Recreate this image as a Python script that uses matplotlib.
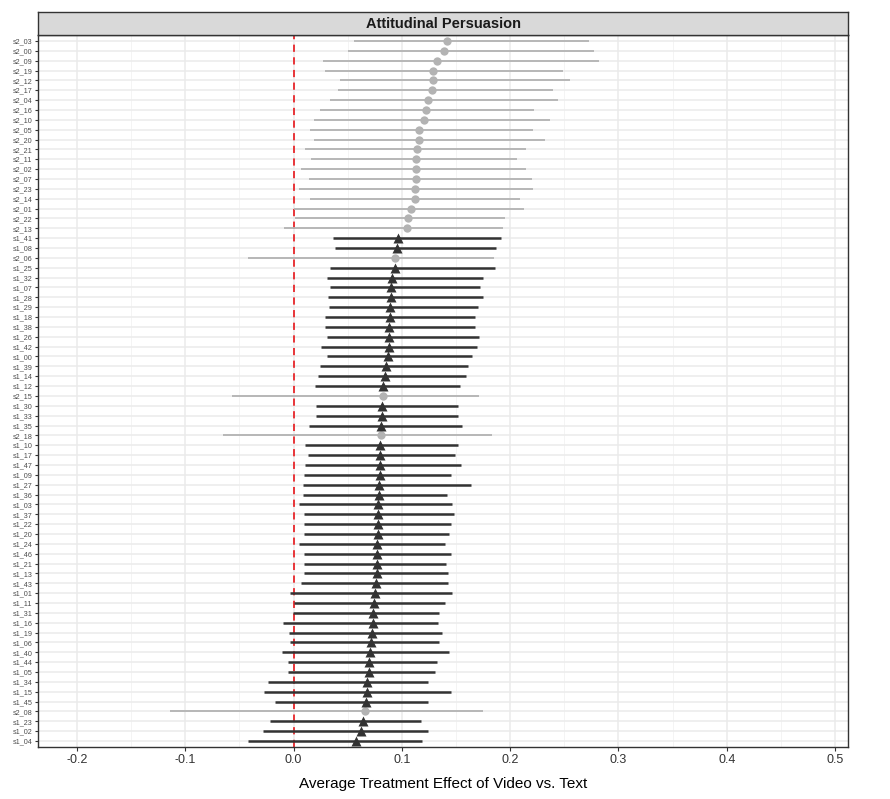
import numpy as np
import matplotlib
matplotlib.use("Agg")
import matplotlib.pyplot as plt

plt.rcParams['font.family'] = ['Liberation Sans', 'DejaVu Sans']

# rows from top to bottom
labels = ["s2_03", "s2_00", "s2_09", "s2_19", "s2_12", "s2_17", "s2_04", "s2_16",
          "s2_10", "s2_05", "s2_20", "s2_21", "s2_11", "s2_02", "s2_07", "s2_23",
          "s2_14", "s2_01", "s2_22", "s2_13", "s1_41", "s1_08", "s2_06", "s1_25",
          "s1_32", "s1_07", "s1_28", "s1_29", "s1_18", "s1_38", "s1_26", "s1_42",
          "s1_00", "s1_39", "s1_14", "s1_12", "s2_15", "s1_30", "s1_33", "s1_35",
          "s2_18", "s1_10", "s1_17", "s1_47", "s1_09", "s1_27", "s1_36", "s1_03",
          "s1_37", "s1_22", "s1_20", "s1_24", "s1_46", "s1_21", "s1_13", "s1_43",
          "s1_01", "s1_11", "s1_31", "s1_16", "s1_19", "s1_06", "s1_40", "s1_44",
          "s1_05", "s1_34", "s1_15", "s1_45", "s2_08", "s1_23", "s1_02", "s1_04"]

estimate = [0.1417, 0.139, 0.132, 0.129, 0.129, 0.128, 0.124, 0.122,
            0.1205, 0.116, 0.116, 0.114, 0.1127, 0.1127, 0.1127, 0.112,
            0.1117, 0.1085, 0.106, 0.105, 0.096, 0.0958, 0.094, 0.0933,
            0.0905, 0.090, 0.0898, 0.0894, 0.0887, 0.0883, 0.0883, 0.088,
            0.0876, 0.085, 0.084, 0.083, 0.0823, 0.082, 0.0813, 0.081,
            0.081, 0.080, 0.080, 0.080, 0.0795, 0.079, 0.0788, 0.0784,
            0.0784, 0.078, 0.0777, 0.0774, 0.0774, 0.0774, 0.077, 0.0763,
            0.0753, 0.0746, 0.0735, 0.073, 0.0728, 0.0717, 0.071, 0.0696,
            0.0693, 0.0678, 0.0675, 0.0671, 0.0657, 0.064, 0.0625, 0.0576]

lower = [0.0558, 0.0505, 0.027, 0.029, 0.043, 0.041, 0.0336, 0.0247,
         0.0187, 0.0152, 0.0187, 0.011, 0.016, 0.0067, 0.014, 0.005,
         0.0152, 0.0, 0.001, -0.009, 0.0364, 0.038, -0.0424, 0.034,
         0.031, 0.034, 0.032, 0.0325, 0.029, 0.029, 0.031, 0.025,
         0.031, 0.0244, 0.0223, 0.0198, -0.057, 0.0205, 0.0205, 0.0145,
         -0.065, 0.0106, 0.013, 0.011, 0.0095, 0.0085, 0.0085, 0.005,
         0.010, 0.0095, 0.010, 0.005, 0.0095, 0.010, 0.0095, 0.0067,
         -0.003, 0.0004, -0.0007, -0.0099, -0.004, -0.0035, -0.011, -0.0053,
         -0.0053, -0.0237, -0.0276, -0.0173, -0.114, -0.022, -0.0286, -0.0424]

upper = [0.273, 0.277, 0.282, 0.249, 0.255, 0.240, 0.244, 0.222,
         0.237, 0.221, 0.232, 0.2145, 0.206, 0.2145, 0.220, 0.221,
         0.209, 0.2127, 0.195, 0.193, 0.1915, 0.187, 0.185, 0.186,
         0.175, 0.172, 0.175, 0.170, 0.168, 0.1675, 0.171, 0.169,
         0.165, 0.161, 0.159, 0.154, 0.171, 0.152, 0.152, 0.156,
         0.183, 0.152, 0.149, 0.155, 0.145, 0.1636, 0.142, 0.146,
         0.148, 0.145, 0.144, 0.1396, 0.145, 0.141, 0.143, 0.143,
         0.146, 0.1396, 0.134, 0.133, 0.1375, 0.1346, 0.144, 0.132,
         0.131, 0.1237, 0.145, 0.1237, 0.1746, 0.118, 0.1237, 0.119]

x_ticks = [-0.2, -0.1, 0.0, 0.1, 0.2, 0.3, 0.4, 0.5]

n = len(labels)
y = np.arange(n)[::-1]  # top row has highest y

fig = plt.figure(figsize=(8.9, 7.99), dpi=100)
ax = fig.add_axes([38 / 890, 1 - 747 / 799, 810 / 890, 712 / 799])

ax.set_xlim(-0.236, 0.512)
ax.set_ylim(-0.6, n - 1 + 0.6)

# grid like theme_bw
for xt in x_ticks:
    ax.axvline(xt, color="#EBEBEB", lw=1.1, zorder=0)
for xm in np.array(x_ticks[:-1]) + 0.05:
    ax.axvline(xm, color="#F2F2F2", lw=0.6, zorder=0)
for yy in y:
    ax.axhline(yy, color="#EBEBEB", lw=1.1, zorder=0)

ax.axvline(0, color="#E8262A", lw=1.3, ls=(0, (4, 3)), zorder=1)

for i, lab in enumerate(labels):
    if lab.startswith("s2"):
        ax.plot([lower[i], upper[i]], [y[i], y[i]], color="#B3B3B3", lw=1.3, zorder=2,
                solid_capstyle="butt")
        ax.plot(estimate[i], y[i], marker="o", ms=6, color="#B3B3B3", mec="none", zorder=3)
    else:
        ax.plot([lower[i], upper[i]], [y[i], y[i]], color="#333333", lw=1.8, zorder=4,
                solid_capstyle="butt")
        ax.plot(estimate[i], y[i], marker="^", ms=6.5, color="#333333", mec="none", zorder=5)

ax.set_yticks(y)
ax.set_yticklabels(labels, fontsize=5.2, color="#4D4D4D")
ax.set_xticks(x_ticks)
ax.set_xticklabels([f"{v:.1f}" for v in x_ticks], fontsize=9, color="#333333")
ax.tick_params(axis="y", length=2.5, width=0.8, color="#333333", pad=1.5)
ax.tick_params(axis="x", length=3, width=0.8, color="#333333", pad=2)
ax.set_xlabel("Average Treatment Effect of Video vs. Text", fontsize=11, labelpad=8)

for sp in ax.spines.values():
    sp.set_color("#333333")
    sp.set_linewidth(1.0)

# facet strip
strip = fig.add_axes([38 / 890, 1 - 35 / 799, 810 / 890, 23 / 799])
strip.set_xticks([])
strip.set_yticks([])
strip.set_facecolor("#D9D9D9")
for sp in strip.spines.values():
    sp.set_color("#333333")
    sp.set_linewidth(1.0)
strip.text(0.5, 0.5, "Attitudinal Persuasion", ha="center", va="center",
           fontsize=10.5, fontweight="bold", color="#1A1A1A", transform=strip.transAxes)

fig.savefig("out.png", dpi=100)
